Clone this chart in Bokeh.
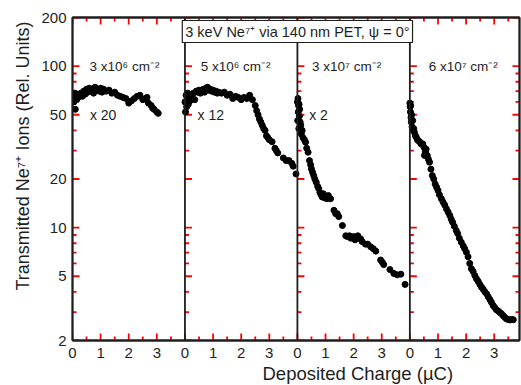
import math
from bokeh.plotting import figure
from bokeh.models import (Span, Label, FixedTicker, LogAxis, LinearAxis, Range1d,
                          CustomJSTickFormatter, Title)
from bokeh.embed import file_html
from bokeh.resources import INLINE

# ---------------- data ----------------
panel_fluence = ["3 x10⁶ cm⁻²", "5 x10⁶ cm⁻²", "3 x10⁷ cm⁻²", "6 x10⁷ cm⁻²"]
panel_factor = ["x 20", "x 12", "x 2", ""]
title_text = "3 keV Ne⁷⁺ via 140 nm PET, ψ = 0°"
x_title = "Deposited Charge (µC)"
y_title = "Transmitted Ne⁷⁺ Ions (Rel. Units)"

charge_1 = [0.0, 0.03, 0.05, 0.08, 0.1, 0.12, 0.15, 0.18, 0.2, 0.25, 0.3, 0.35, 0.4, 0.45,
            0.5, 0.55, 0.6, 0.65, 0.7, 0.75, 0.8, 0.85, 0.9, 0.95, 1.0, 1.05, 1.1, 1.2,
            1.3, 1.4, 1.5, 1.6, 1.7, 1.8, 1.9, 2.0, 2.1, 2.2, 2.3, 2.4, 2.5, 2.6, 2.65,
            2.7, 2.8, 2.85, 2.9, 3.0, 3.05]
ions_1 = [63, 66, 60, 68, 54, 65, 62, 67, 64, 66, 68, 65, 70, 67,
          72, 69, 73, 70, 72, 68, 74, 71, 72, 70, 73, 69, 72, 70,
          71, 68, 69, 66, 65, 64, 63, 59, 61, 63, 65, 66, 62, 63, 64,
          59, 57, 55, 54, 52, 51]

charge_2 = [0.0, 0.02, 0.04, 0.06, 0.08, 0.1, 0.12, 0.15, 0.18, 0.2, 0.25, 0.3, 0.35, 0.4,
            0.45, 0.5, 0.55, 0.6, 0.65, 0.7, 0.75, 0.8, 0.85, 0.9, 0.95, 1.0, 1.05, 1.1,
            1.15, 1.2, 1.3, 1.4, 1.5, 1.6, 1.7, 1.8, 1.9, 2.0, 2.1, 2.2, 2.3, 2.4, 2.5,
            2.55, 2.6, 2.65, 2.7, 2.75, 2.8, 2.85, 2.9, 2.95, 3.0, 3.1, 3.2, 3.25, 3.3,
            3.5, 3.6, 3.7, 3.8, 3.85, 3.95]
ions_2 = [60, 52, 66, 56, 63, 68, 58, 65, 61, 66, 64, 68, 62, 70,
          69, 71, 68, 70, 72, 69, 73, 74, 71, 72, 70, 71, 69, 70,
          68, 69, 68, 69, 66, 67, 63, 65, 64, 62, 64, 63, 66, 62, 57,
          53, 50, 47, 45, 43, 41, 40, 37, 36, 35, 34, 31, 30, 29,
          27, 26, 26, 25, 24, 21.5]

charge_3 = [0.0, 0.01, 0.02, 0.03, 0.04, 0.05, 0.06, 0.07, 0.08, 0.1, 0.12, 0.14, 0.17,
            0.2, 0.25, 0.29, 0.33, 0.38, 0.43, 0.47, 0.5, 0.54, 0.58, 0.62, 0.67, 0.72,
            0.76, 0.8, 0.84, 0.88, 0.92, 0.96, 1.0, 1.05, 1.1, 1.18, 1.3, 1.36, 1.42,
            1.47, 1.6, 1.72, 1.78, 1.85, 1.9, 2.0, 2.05, 2.1, 2.15, 2.25, 2.3, 2.42,
            2.5, 2.61, 2.7, 2.79, 2.96, 3.02, 3.07, 3.29, 3.43, 3.55, 3.68, 3.83]
ions_3 = [60, 46, 63, 52, 57, 41, 58, 49, 54, 45, 43, 38, 40,
          36, 35, 33.8, 31, 29.3, 26, 24.5, 23.1, 22, 21, 20, 19.1, 18,
          17.4, 16.5, 16, 15.5, 16.2, 15.3, 15.6, 15.1, 15.8, 15.1, 12.8, 12.2, 12.2,
          11.7, 10.3, 8.9, 8.8, 8.9, 8.6, 8.8, 8.4, 8.6, 8.9, 8.5, 8.2, 7.9,
          7.9, 7.6, 7.4, 7.15, 6.3, 6.1, 5.9, 5.5, 5.2, 5.1, 5.15, 4.45]

charge_4 = [0.0, 0.01, 0.02, 0.03, 0.04, 0.05, 0.06, 0.08, 0.1, 0.12, 0.14, 0.16, 0.2,
            0.23, 0.27, 0.3, 0.35, 0.4, 0.46, 0.5, 0.52, 0.55, 0.58, 0.62, 0.66, 0.7,
            0.75, 0.8, 0.85, 0.9, 0.95, 1.0, 1.05, 1.12, 1.18, 1.24, 1.3, 1.36, 1.42,
            1.47, 1.52, 1.58, 1.65, 1.7, 1.76, 1.83, 1.9, 1.95, 2.01, 2.07, 2.13, 2.19,
            2.25, 2.31, 2.37, 2.43, 2.49, 2.55, 2.61, 2.67, 2.73, 2.79, 2.85, 2.9, 2.96,
            3.02, 3.08, 3.14, 3.2, 3.26, 3.32, 3.38, 3.44, 3.5, 3.56, 3.62, 3.68]
ions_4 = [59, 56, 52, 57, 48, 45, 50, 42, 46, 40, 41, 39, 37,
          36.3, 35, 34.6, 34, 33, 33, 31.5, 28, 29.5, 30.6, 28, 26.5, 25.4,
          23, 21, 20, 18.6, 17.8, 17, 16, 15.1, 14.4, 13.8, 13.1, 12.5, 11.9,
          11.3, 10.8, 10.2, 9.6, 9.2, 8.6, 8.12, 7.7, 7.4, 7.04, 6.6, 6.0, 5.56,
          5.35, 5.05, 4.82, 4.65, 4.45, 4.28, 4.15, 4.0, 3.89, 3.72, 3.58, 3.45, 3.3,
          3.2, 3.1, 3.05, 2.98, 2.93, 2.85, 2.78, 2.72, 2.7, 2.68, 2.7, 2.69]

charges = [charge_1, charge_2, charge_3, charge_4]
ions = [ions_1, ions_2, ions_3, ions_4]

y_ticks = [2, 5, 10, 20, 50, 100, 200]
y_minor = [3, 4, 6, 7, 8, 9, 30, 40, 60, 70, 80, 90]
x_ticks_local = [0, 1, 2, 3]
x_minor_local = [0.5, 1.5, 2.5, 3.5]

# ---------------- layout ----------------
PANEL_W = 4.0
LAST_W = 3.9
X_END = PANEL_W * 3 + LAST_W
Y_LO, Y_HI = 2, 200
FONT = "Liberation Sans"
INK = "#1e1e1e"
TICK_INK = "red"
LW = 1.8
MAJOR_LEN, MINOR_LEN = 7, 4

p = figure(width=521, height=385, y_axis_type="log",
           x_range=Range1d(0, X_END), y_range=Range1d(Y_LO, Y_HI),
           output_backend="svg", toolbar_location=None,
           min_border_left=72, min_border_right=2, min_border_top=17, min_border_bottom=45)
p.grid.visible = False
p.outline_line_color = INK
p.outline_line_width = LW
p.background_fill_color = "white"

x_major = [PANEL_W * i + t for i in range(4) for t in x_ticks_local]
x_minor = [PANEL_W * i + t for i in range(4) for t in x_minor_local if PANEL_W * i + t < X_END]
x_labels = {PANEL_W * i + t: str(t) for i in range(4) for t in x_ticks_local}
x_ticker = FixedTicker(ticks=x_major, minor_ticks=x_minor)
y_ticker = FixedTicker(ticks=y_ticks, minor_ticks=y_minor)


def style_axis(ax):
    ax.axis_line_color = INK
    ax.axis_line_width = LW
    ax.major_tick_line_color = None
    ax.minor_tick_line_color = None
    ax.major_tick_in = 0
    ax.major_tick_out = 0
    ax.minor_tick_in = 0
    ax.minor_tick_out = 0
    ax.major_label_text_font = FONT
    ax.major_label_text_font_size = "15px"
    ax.major_label_text_color = INK


bx = p.xaxis[0]
bx.ticker = x_ticker
bx.major_label_overrides = x_labels
bx.major_label_standoff = 7
style_axis(bx)

ly = p.yaxis[0]
ly.ticker = y_ticker
ly.major_label_overrides = {t: str(t) for t in y_ticks}
ly.major_label_standoff = 6
style_axis(ly)

top = LinearAxis(ticker=x_ticker, formatter=CustomJSTickFormatter(code="return ''"))
style_axis(top)
top.major_label_text_font_size = "1px"
top.major_label_standoff = 0
p.add_layout(top, "above")

right = LogAxis(ticker=y_ticker, formatter=CustomJSTickFormatter(code="return ''"))
style_axis(right)
right.major_label_text_font_size = "1px"
right.major_label_standoff = 0
p.add_layout(right, "right")

p.add_layout(Title(text=y_title, align="left", offset=50, standoff=11,
                   text_font=FONT, text_font_size="18px", text_font_style="normal",
                   text_color=INK), "left")
p.add_layout(Title(text=x_title, align="left", offset=190, standoff=0,
                   text_font=FONT, text_font_size="18.5px", text_font_style="normal",
                   text_color=INK), "below")

for i in range(1, 4):
    p.add_layout(Span(location=PANEL_W * i, dimension="height",
                      line_color=INK, line_width=LW))

# inward tick marks, one ray call per (direction, length) with scalar angle/length
edges = [PANEL_W * i for i in range(4)]
for vals, ln in ((y_ticks, MAJOR_LEN), (y_minor, MINOR_LEN)):
    p.ray(x=[e for e in edges for _ in vals], y=[v for _ in edges for v in vals],
          angle=0, length=ln, length_units="screen", line_color=TICK_INK, line_width=LW)
    p.ray(x=[X_END] * len(vals), y=list(vals),
          angle=math.pi, length=ln, length_units="screen", line_color=TICK_INK, line_width=LW)
for vals, ln in ((x_major, MAJOR_LEN), (x_minor, MINOR_LEN)):
    p.ray(x=list(vals), y=[Y_LO] * len(vals),
          angle=math.pi / 2, length=ln, length_units="screen", line_color=TICK_INK, line_width=LW)
    p.ray(x=list(vals), y=[Y_HI] * len(vals),
          angle=-math.pi / 2, length=ln, length_units="screen", line_color=TICK_INK, line_width=LW)

for i in range(4):
    xs = [PANEL_W * i + c for c in charges[i]]
    p.scatter(xs, ions[i], size=6, color="black", line_color="black")

fluence_pos = [1.85, 1.8, 1.75, 1.9]
for i in range(4):
    p.add_layout(Label(x=PANEL_W * i + fluence_pos[i], y=100, text=panel_fluence[i],
                       text_align="center", text_baseline="middle",
                       text_font=FONT, text_font_size="13.5px", text_color=INK))
factor_pos = [0.62, 0.45, 0.42]
for i in range(3):
    p.add_layout(Label(x=PANEL_W * i + factor_pos[i], y=50, text=panel_factor[i],
                       text_align="left", text_baseline="middle",
                       text_font=FONT, text_font_size="14px", text_color=INK))

p.add_layout(Label(x=PANEL_W * 2, y=Y_HI, text=title_text, text_align="center",
                   text_baseline="top", y_offset=-3, padding=3,
                   text_font=FONT, text_font_size="14.5px", text_color=INK,
                   background_fill_color="white", border_line_color=INK,
                   border_line_width=1.2))

open("out.html", "w").write(file_html(p, INLINE))
